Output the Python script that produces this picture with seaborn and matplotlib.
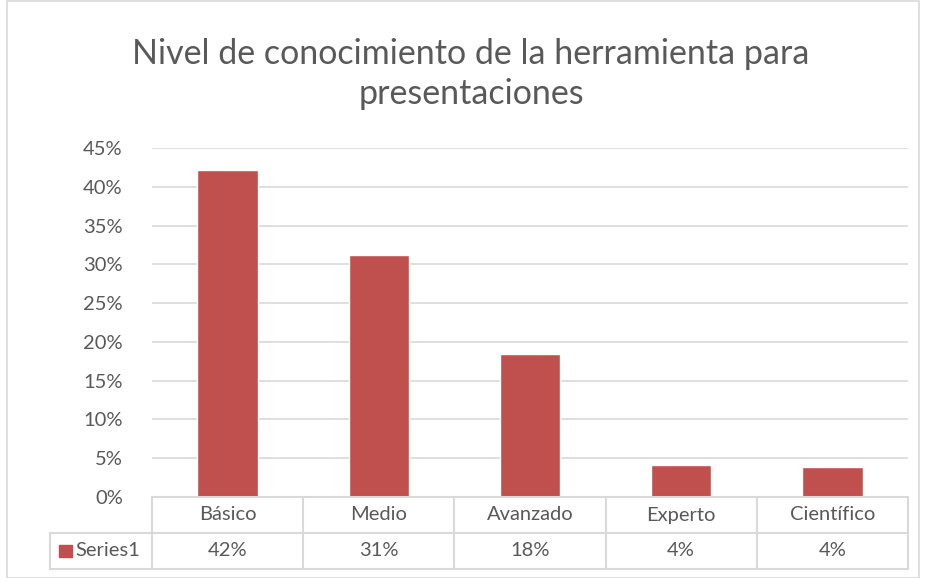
import matplotlib
matplotlib.use("Agg")
import matplotlib.pyplot as plt
import matplotlib.patches as mpatches
import matplotlib.ticker as mticker
import pandas as pd
import seaborn as sns

categories = ["Básico", "Medio", "Avanzado", "Experto", "Científico"]
values = [0.422, 0.312, 0.184, 0.041, 0.039]
table_labels = ["42%", "31%", "18%", "4%", "4%"]
series_name = "Series1"
title = "Nivel de conocimiento de la herramienta para\npresentaciones"

BAR = "#C0504D"
TXT = "#595959"
GRID = "#D9D9D9"


def main():
    sns.set_theme(style="white")
    plt.rcParams["font.family"] = ["Lato", "DejaVu Sans"]

    df = pd.DataFrame({"cat": categories, "val": values})

    fig = plt.figure(figsize=(9.27, 5.78), dpi=100)
    W, H = 927, 578
    x0, x1, y0, y1 = 152, 908, 148, 497
    ax = fig.add_axes([x0 / W, 1 - y1 / H, (x1 - x0) / W, (y1 - y0) / H])

    sns.barplot(data=df, x="cat", y="val", color=BAR, width=0.4, saturation=1, ax=ax)
    ax.set_xlim(-0.5, len(categories) - 0.5)
    ax.set_ylim(0, 0.45)
    ax.yaxis.set_major_locator(mticker.MultipleLocator(0.05))
    ax.yaxis.set_major_formatter(mticker.PercentFormatter(1.0, decimals=0))
    ax.grid(axis="y", color=GRID, linewidth=1.2)
    ax.set_axisbelow(True)
    for s in ax.spines.values():
        s.set_visible(False)
    ax.set_xticks([])
    ax.set_xlabel("")
    ax.set_ylabel("")
    ax.tick_params(axis="y", length=0, labelsize=14.5, labelcolor=TXT, pad=21)

    # data table below the plot
    ncat = len(categories)
    row1 = (533 - 497) / (y1 - y0)
    row2 = (569 - 497) / (y1 - y0)
    tr = ax.get_xaxis_transform()
    lk = dict(color=GRID, linewidth=1.5, clip_on=False, transform=tr)
    for i in range(ncat + 1):
        ax.plot([i - 0.5, i - 0.5], [0, -row2], **lk)
    ax.plot([-0.5, ncat - 0.5], [0, 0], **lk)
    cell_w = (x1 - x0) / ncat
    left_x = -0.5 - (x0 - 50) / cell_w
    ax.plot([left_x, ncat - 0.5], [-row1, -row1], **lk)
    ax.plot([left_x, ncat - 0.5], [-row2, -row2], **lk)
    ax.plot([left_x, left_x], [-row1, -row2], **lk)
    for i, (c, t) in enumerate(zip(categories, table_labels)):
        ax.text(i, -row1 / 2, c, ha="center", va="center", fontsize=14.5,
                color=TXT, transform=tr, clip_on=False)
        ax.text(i, -(row1 + row2) / 2, t, ha="center", va="center", fontsize=14.5,
                color=TXT, transform=tr, clip_on=False)
    ax.add_patch(mpatches.Rectangle((left_x + 0.06, -(row1 + row2) / 2 - 0.018), 0.085, 0.036,
                                    color=BAR, transform=tr, clip_on=False))
    ax.text(left_x + 0.165, -(row1 + row2) / 2, series_name, ha="left", va="center",
            fontsize=14.5, color=TXT, transform=tr, clip_on=False)

    fig.text(471 / W, 1 - 74 / H, title, ha="center", va="center", fontsize=24.5,
             color=TXT, linespacing=1.32)

    fig.patches.append(mpatches.Rectangle((7 / W, 0.5 / H), 912 / W, 1 - 1 / H, fill=False,
                                          edgecolor=GRID, linewidth=1.2,
                                          transform=fig.transFigure))

    fig.savefig("out.png", dpi=100)
    plt.close(fig)


if __name__ == "__main__":
    main()
